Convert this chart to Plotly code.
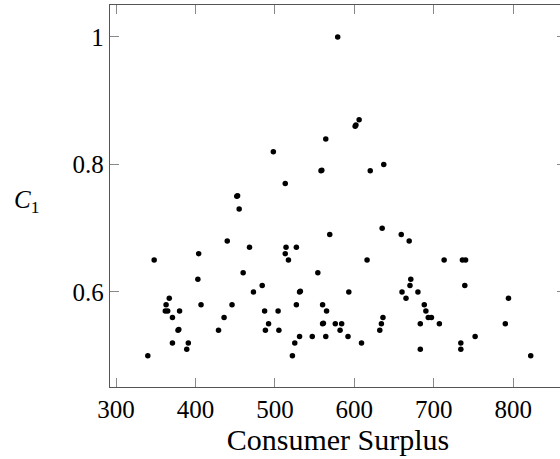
import plotly.graph_objects as go

consumer_surplus = [
    579, 606, 601, 602, 564, 498, 558, 559, 620, 637, 513, 452, 453, 455,
    635, 569, 659, 669, 440, 468, 514, 527,
    348, 404, 513, 517, 616, 713, 736, 740,
    460, 554, 403, 671, 484, 670, 739,
    367, 473, 531, 532, 593, 660, 680, 665, 794,
    363, 362, 365, 380, 407, 446, 527, 560, 688,
    371, 436, 636, 693, 697, 487, 504, 565, 690,
    378, 379, 429, 492, 488, 505, 560, 561, 576, 584, 582, 634, 632, 683, 707, 790,
    371, 391, 389, 525, 531, 547, 564, 592, 609, 752, 734, 734, 683,
    340, 522, 822,
]
c1_values = [
    1.00, 0.87, 0.86, 0.862, 0.84, 0.82, 0.79, 0.791, 0.79, 0.80, 0.77, 0.75, 0.751, 0.73,
    0.70, 0.69, 0.69, 0.68, 0.68, 0.67, 0.67, 0.67,
    0.65, 0.66, 0.66, 0.65, 0.65, 0.65, 0.65, 0.65,
    0.63, 0.63, 0.62, 0.62, 0.61, 0.61, 0.61,
    0.59, 0.60, 0.60, 0.601, 0.60, 0.60, 0.60, 0.59, 0.59,
    0.58, 0.57, 0.57, 0.57, 0.58, 0.58, 0.58, 0.58, 0.58,
    0.56, 0.56, 0.56, 0.56, 0.56, 0.57, 0.57, 0.57, 0.57,
    0.54, 0.541, 0.54, 0.55, 0.54, 0.54, 0.55, 0.551, 0.55, 0.55, 0.54, 0.55, 0.54, 0.55, 0.55, 0.55,
    0.52, 0.52, 0.51, 0.52, 0.53, 0.53, 0.53, 0.53, 0.52, 0.53, 0.52, 0.51, 0.51,
    0.50, 0.50, 0.50,
]
x_ticks = [300, 400, 500, 600, 700, 800]
y_ticks = [0.6, 0.8, 1.0]
y_tick_labels = ["0.6", "0.8", "1"]

FONT = "Liberation Serif, DejaVu Serif, serif"

fig = go.Figure(go.Scatter(
    x=consumer_surplus, y=c1_values, mode="markers",
    marker=dict(color="black", size=5.5, line=dict(width=0)),
    showlegend=False, hoverinfo="skip",
))

# The reference's right frame edge lies just outside the visible window.
fig.update_layout(
    width=566, height=459,
    margin=dict(l=110, r=0, t=5, b=72),
    paper_bgcolor="white", plot_bgcolor="white",
    font=dict(family=FONT, size=25, color="black"),
)
fig.update_xaxes(
    range=[292.4, 866.4], tickvals=x_ticks, ticks="inside", ticklen=9,
    tickcolor="#888", tickwidth=1, showline=True, linecolor="#555", linewidth=1.3,
    mirror="allticks", showgrid=False, zeroline=False,
    title=dict(text="Consumer Surplus", standoff=6),
)
fig.update_yaxes(
    range=[0.451, 1.05], tickvals=y_ticks, ticktext=y_tick_labels, ticks="inside",
    ticklen=9, tickcolor="#888", tickwidth=1, showline=True, linecolor="#555",
    linewidth=1.3, mirror="allticks", showgrid=False, zeroline=False,
)
fig.add_annotation(
    text="<i>C</i><sub>1</sub>", xref="paper", yref="paper", x=-0.184, y=0.485,
    xanchor="center", yanchor="middle", showarrow=False,
    font=dict(family=FONT, size=25, color="black"),
)

fig.write_html(
    "out.html",
    config={"displayModeBar": False},
    post_script="document.body.style.margin='0';document.body.style.overflow='hidden';",
)
